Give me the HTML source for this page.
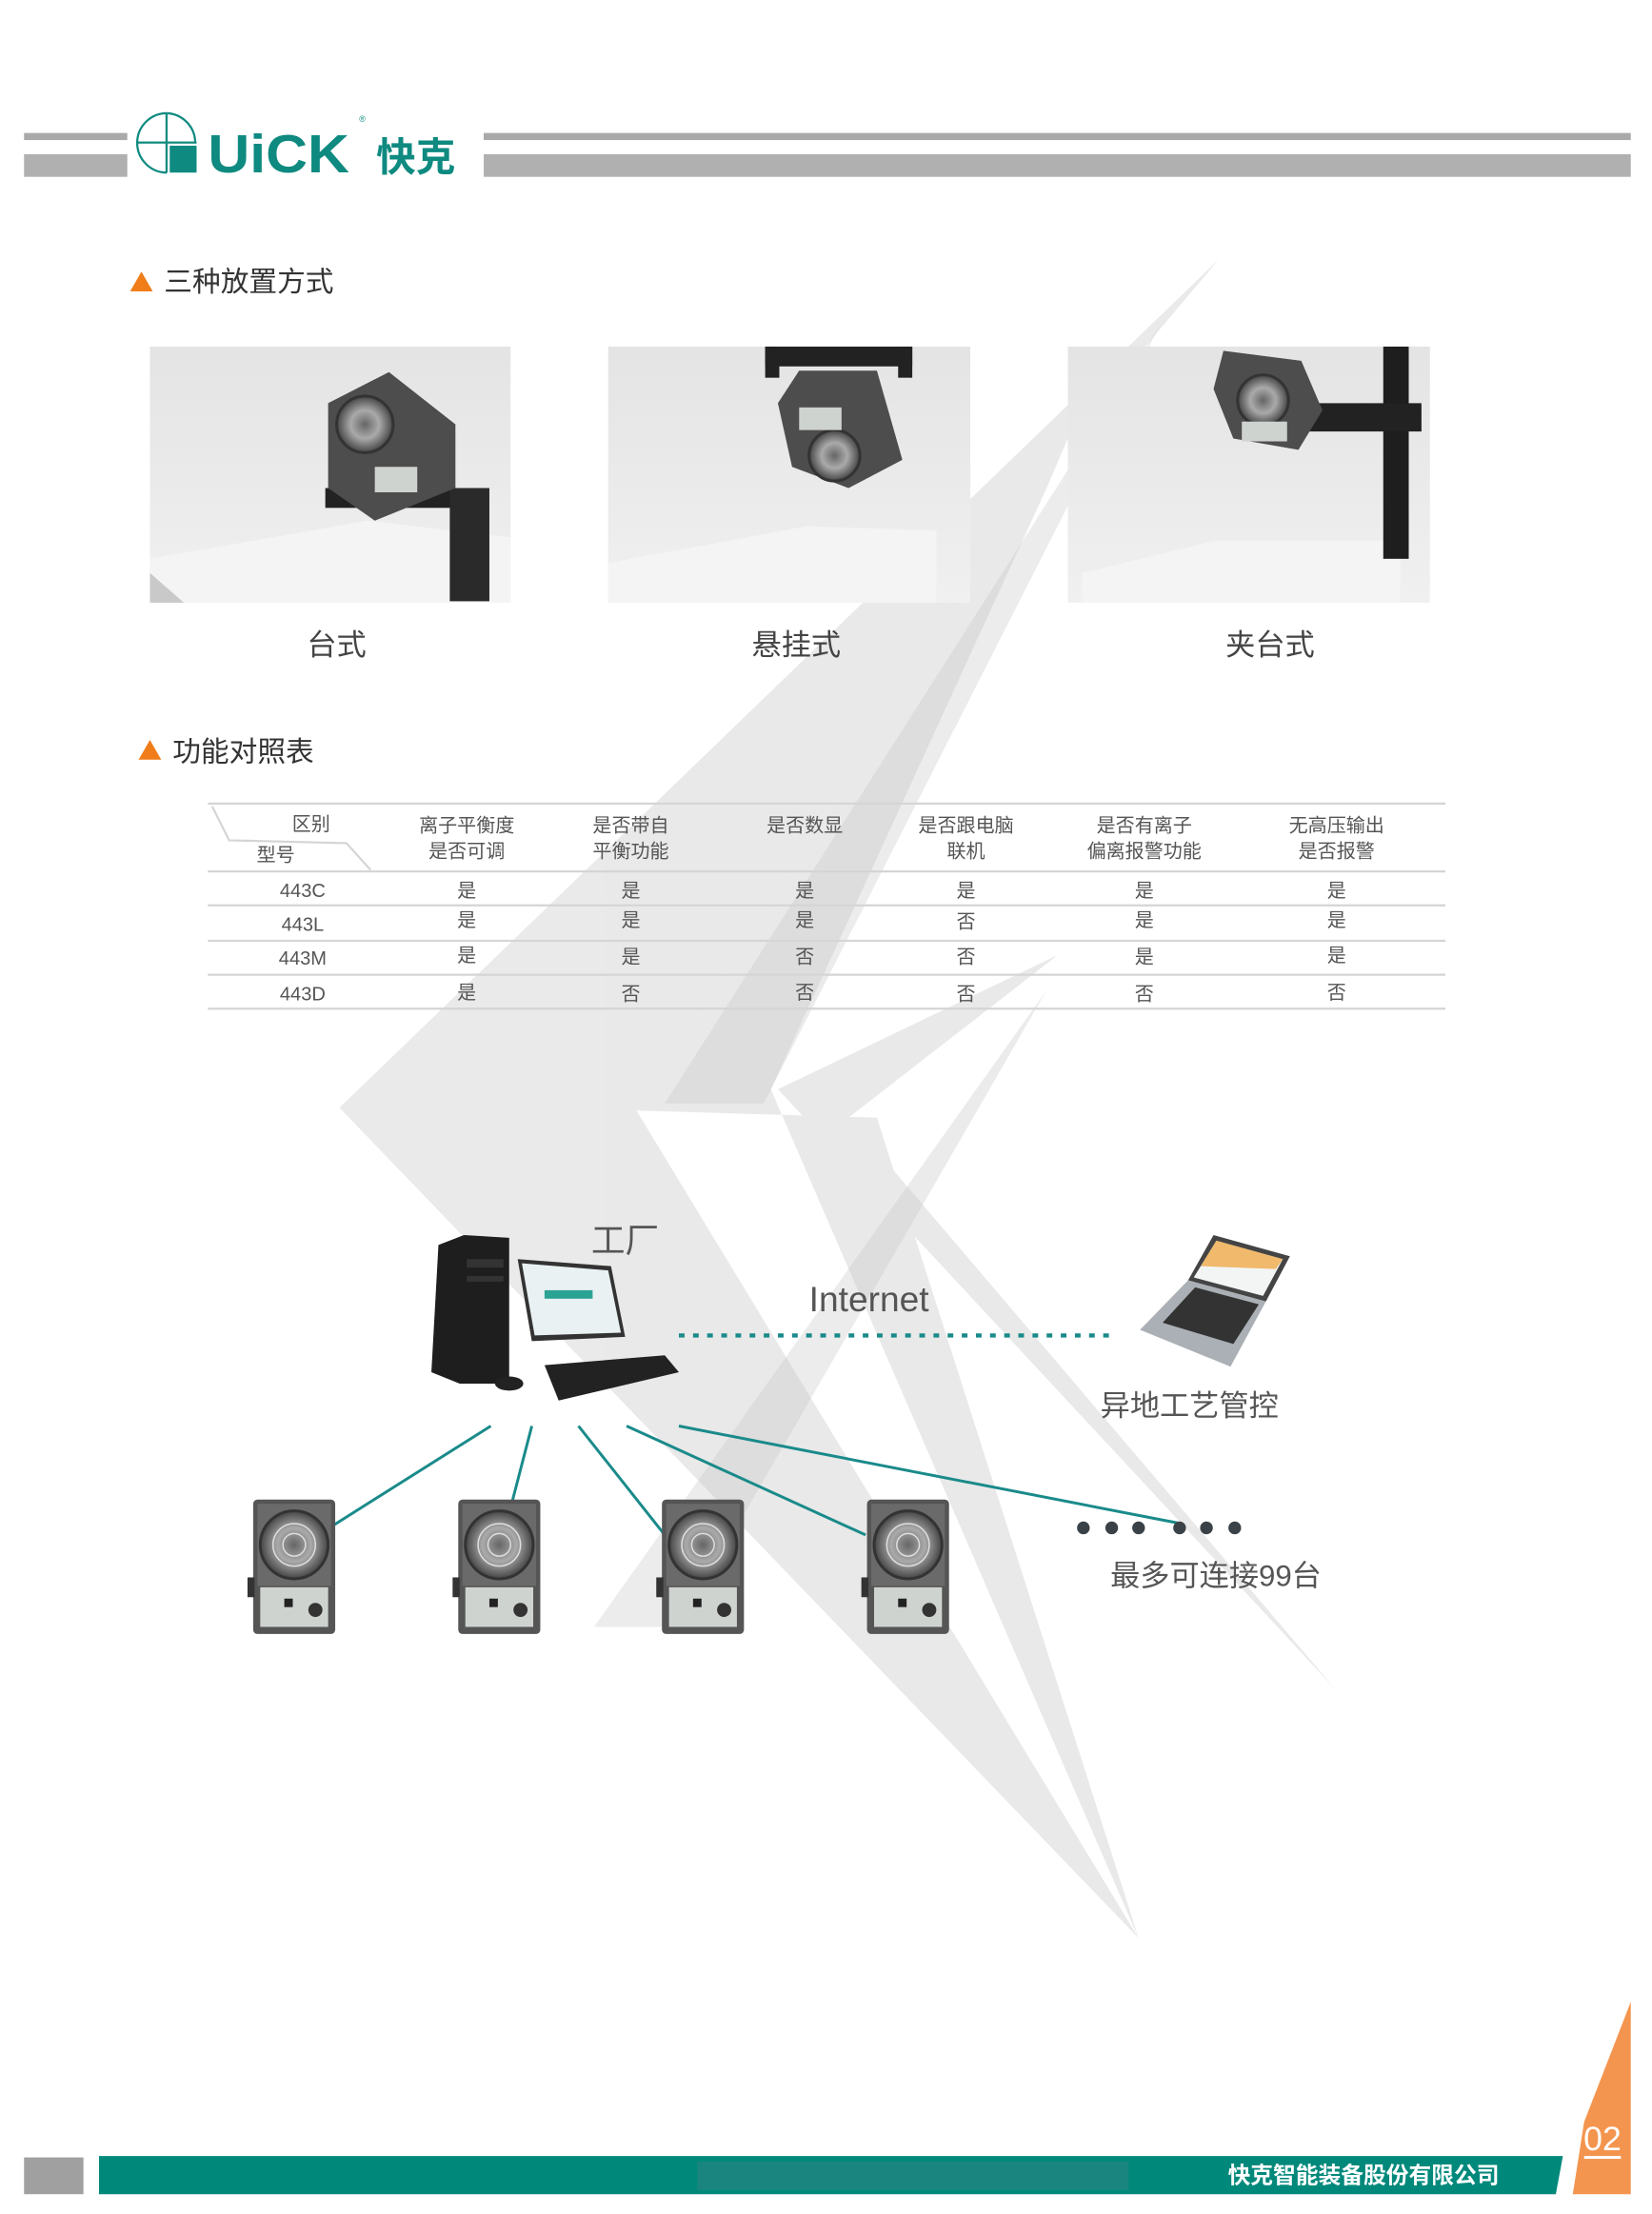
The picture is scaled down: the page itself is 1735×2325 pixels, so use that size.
<!DOCTYPE html>
<html><head><meta charset="utf-8">
<style>
html,body{margin:0;padding:0;background:#fff;}
svg{display:block;}
text{font-family:"Liberation Sans","Noto Sans CJK SC",sans-serif;}
</style></head>
<body>
<svg width="1735" height="2325" viewBox="0 0 1168 1565" preserveAspectRatio="none" xmlns="http://www.w3.org/2000/svg">
<defs>
<linearGradient id="ph" x1="0" y1="0" x2="0" y2="1"><stop offset="0" stop-color="#e4e4e4"/><stop offset="1" stop-color="#f0f0f0"/></linearGradient>
<radialGradient id="fan"><stop offset="0" stop-color="#666"/><stop offset="0.5" stop-color="#aaa"/><stop offset="1" stop-color="#444"/></radialGradient>
<g id="ion">
<rect x="0" y="0" width="58" height="95" rx="3" fill="#555"/>
<rect x="3" y="3" width="52" height="58" fill="#6a6a6a"/>
<circle cx="29" cy="32" r="24" fill="url(#fan)" stroke="#333" stroke-width="2"/>
<circle cx="29" cy="32" r="15" fill="none" stroke="#ddd" stroke-width="1"/>
<circle cx="29" cy="32" r="8" fill="none" stroke="#ddd" stroke-width="1"/>
<rect x="5" y="62" width="48" height="28" fill="#cfd3cf"/>
<rect x="22" y="70" width="6" height="6" fill="#222"/>
<circle cx="44" cy="78" r="5" fill="#333"/>
<rect x="-4" y="55" width="5" height="14" fill="#333"/>
</g>
</defs>

<!-- background lightning shapes -->
<g fill="#d8d8d8" opacity="0.55">
<polygon points="862,183 240,783 805,1370 450,785 755,310"/>
<polygon points="755,310 450,785 620,790 805,1370 545,770 740,345"/>
<polygon points="748,675 550,770 945,1195 600,790"/>
</g>
<g fill="#c8c8c8" opacity="0.35">
<polygon points="820,230 470,780 540,780"/>
<polygon points="740,700 420,1150 480,1150"/>
</g>

<!-- header -->
<rect x="17" y="94" width="73" height="5" fill="#a9a9a9"/>
<rect x="17" y="109" width="73" height="16" fill="#b0b0b0"/>
<rect x="342" y="94" width="811" height="5" fill="#a9a9a9"/>
<rect x="342" y="109" width="811" height="16" fill="#b0b0b0"/>
<g fill="#0e8a80">
<path d="M118,80 A21,21 0 0 0 118,122" fill="none" stroke="#0e8a80" stroke-width="1.5"/>
<path d="M118,80 A21,21 0 0 1 138,100" fill="none" stroke="#0e8a80" stroke-width="1.5"/>
<rect x="97" y="100" width="42" height="1.5"/>
<rect x="117" y="80" width="1.5" height="42"/>
<rect x="120" y="103" width="19" height="19"/>
<text x="147" y="122" font-size="38" font-weight="bold" font-family="Liberation Sans,sans-serif" textLength="100" lengthAdjust="spacingAndGlyphs">UiCK</text>
<text x="266" y="121" font-size="28" font-weight="bold" font-family="Noto Sans CJK SC,sans-serif">快克</text>
</g>
<text x="254" y="86" font-size="6" fill="#0e8a80">®</text>

<!-- section 1 -->
<polygon points="92,206 100,192 108,206" fill="#f07d1a"/>
<text x="116" y="206" font-size="20" fill="#333">三种放置方式</text>

<rect x="106" y="245" width="255" height="181" fill="url(#ph)"/>
<polygon points="106,395 260,368 361,380 361,426 106,426" fill="#f4f4f4"/>
<polygon points="106,405 130,426 106,426" fill="#c9c9c9"/>
<rect x="230" y="345" width="115" height="14" fill="#222"/>
<rect x="318" y="345" width="28" height="80" fill="#2a2a2a"/>
<polygon points="232,285 275,263 322,300 322,345 265,368 232,345" fill="#4d4d4d"/>
<circle cx="258" cy="300" r="20" fill="url(#fan)" stroke="#333" stroke-width="2"/>
<rect x="265" y="330" width="30" height="18" fill="#cfd3cf"/>

<rect x="430" y="245" width="256" height="181" fill="url(#ph)"/>
<polygon points="430,398 570,372 662,375 662,426 430,426" fill="#f4f4f4"/>
<rect x="541" y="245" width="104" height="14" fill="#222"/>
<rect x="541" y="245" width="10" height="22" fill="#222"/>
<rect x="635" y="245" width="10" height="22" fill="#222"/>
<polygon points="565,262 620,262 638,325 600,345 560,330 550,285" fill="#4d4d4d"/>
<circle cx="590" cy="322" r="18" fill="url(#fan)" stroke="#333" stroke-width="2"/>
<rect x="565" y="288" width="30" height="16" fill="#cfd3cf"/>

<rect x="755" y="245" width="256" height="181" fill="url(#ph)"/>
<polygon points="765,405 860,382 990,382 990,426 765,426" fill="#f4f4f4"/>
<rect x="978" y="245" width="18" height="150" fill="#1e1e1e"/>
<rect x="925" y="285" width="80" height="20" fill="#222"/>
<polygon points="865,248 920,255 935,290 918,318 872,310 858,275" fill="#4d4d4d"/>
<circle cx="893" cy="283" r="18" fill="url(#fan)" stroke="#333" stroke-width="2"/>
<rect x="878" y="298" width="32" height="14" fill="#cfd3cf"/>

<g font-size="21" fill="#444" text-anchor="middle">
<text x="238" y="463">台式</text>
<text x="563" y="463">悬挂式</text>
<text x="898" y="463">夹台式</text>
</g>

<!-- section 2 -->
<polygon points="98,537 106,523 114,537 " fill="#f07d1a"/>
<text x="122" y="538" font-size="20" fill="#333">功能对照表</text>

<g stroke="#d5d5d5" stroke-width="1.5">
<line x1="147" y1="568" x2="1022" y2="568"/>
<line x1="147" y1="616" x2="1022" y2="616"/>
<line x1="147" y1="640" x2="1022" y2="640"/>
<line x1="147" y1="665" x2="1022" y2="665"/>
<line x1="147" y1="689" x2="1022" y2="689"/>
<line x1="147" y1="713" x2="1022" y2="713"/>
<polyline points="150,570 162,594 245,596 262,615" fill="none"/>
</g>
<g font-size="13.5" fill="#555" text-anchor="middle">
<text x="220" y="587">区别</text>
<text x="195" y="609">型号</text>
<text x="330" y="588">离子平衡度</text><text x="330" y="606">是否可调</text>
<text x="446" y="588">是否带自</text><text x="446" y="606">平衡功能</text>
<text x="569" y="588">是否数显</text>
<text x="683" y="588">是否跟电脑</text><text x="683" y="606">联机</text>
<text x="809" y="588">是否有离子</text><text x="809" y="606">偏离报警功能</text>
<text x="945" y="588">无高压输出</text><text x="945" y="606">是否报警</text>
</g>
<g font-size="13.5" fill="#555" text-anchor="middle">
<text x="214" y="634" font-family="Liberation Mono,monospace">443C</text>
<text x="330" y="634">是</text><text x="446" y="634">是</text><text x="569" y="634">是</text><text x="683" y="634">是</text><text x="809" y="634">是</text><text x="945" y="634">是</text>
<text x="214" y="658" font-family="Liberation Mono,monospace">443L</text>
<text x="330" y="655">是</text><text x="446" y="655">是</text><text x="569" y="655">是</text><text x="683" y="656">否</text><text x="809" y="655">是</text><text x="945" y="655">是</text>
<text x="214" y="682" font-family="Liberation Mono,monospace">443M</text>
<text x="330" y="680">是</text><text x="446" y="681">是</text><text x="569" y="681">否</text><text x="683" y="681">否</text><text x="809" y="681">是</text><text x="945" y="680">是</text>
<text x="214" y="707" font-family="Liberation Mono,monospace">443D</text>
<text x="330" y="706">是</text><text x="446" y="707">否</text><text x="569" y="706">否</text><text x="683" y="707">否</text><text x="809" y="707">否</text><text x="945" y="706">否</text>
</g>

<!-- network -->
<text x="418" y="885" font-size="24" fill="#555">工厂</text>
<text x="572" y="927" font-size="25" fill="#555">Internet</text>
<line x1="480" y1="944" x2="790" y2="944" stroke="#1a8a8a" stroke-width="3" stroke-dasharray="4,6"/>
<text x="778" y="1001" font-size="21" fill="#555">异地工艺管控</text>

<!-- computer -->
<polygon points="310,880 328,873 360,875 360,978 325,978 305,970" fill="#1e1e1e"/>
<rect x="330" y="890" width="26" height="6" fill="#333"/>
<rect x="330" y="902" width="26" height="4" fill="#333"/>
<polygon points="366,890 432,895 442,945 376,948" fill="#333"/>
<polygon points="369,893 430,898 439,942 378,944" fill="#e9f1f2"/>
<rect x="385" y="912" width="34" height="6" fill="#2aa394"/>
<polygon points="385,965 470,958 480,970 395,990" fill="#222"/>
<ellipse cx="360" cy="978" rx="10" ry="5" fill="#222"/>

<!-- laptop -->
<polygon points="840,905 858,873 912,888 895,920" fill="#444"/>
<polygon points="844,903 860,877 907,890 893,916" fill="#f3f5f5"/>
<polygon points="849,895 860,877 907,890 902,897" fill="#f0a030" opacity="0.7"/>
<polygon points="840,905 895,920 870,966 806,940" fill="#aab0b5"/>
<polygon points="845,910 890,922 872,950 822,935" fill="#333"/>

<!-- connectors -->
<g stroke="#1a8a8a" stroke-width="2" fill="none">
<line x1="347" y1="1008" x2="236" y2="1078"/>
<line x1="376" y1="1008" x2="362" y2="1062"/>
<line x1="409" y1="1008" x2="470" y2="1085"/>
<line x1="443" y1="1008" x2="612" y2="1085"/>
<line x1="480" y1="1008" x2="835" y2="1077"/>
</g>
<g fill="#3a4248">
<circle cx="766" cy="1080" r="4.5"/><circle cx="786" cy="1080" r="4.5"/><circle cx="805" cy="1080" r="4.5"/>
<circle cx="834" cy="1080" r="4.5"/><circle cx="853" cy="1080" r="4.5"/><circle cx="873" cy="1080" r="4.5"/>
</g>
<text x="785" y="1121" font-size="21" fill="#555">最多可连接99台</text>

<use href="#ion" x="179" y="1060"/>
<use href="#ion" x="324" y="1060"/>
<use href="#ion" x="468" y="1060"/>
<use href="#ion" x="613" y="1060"/>

<!-- footer -->
<rect x="17" y="1525" width="42" height="26" fill="#a0a0a0"/>
<polygon points="70,1524 1105,1524 1100,1551 70,1551" fill="#00897b"/>
<rect x="493" y="1528" width="305" height="20" fill="#1a857f"/>
<text x="1060" y="1543" font-size="16" font-weight="bold" fill="#fff" text-anchor="end" font-family="Noto Sans CJK SC,sans-serif">快克智能装备股份有限公司</text>
<polygon points="1153,1415 1153,1551 1112,1551 1120,1500" fill="#f4954f"/>
<text x="1133" y="1520" font-size="24" fill="#fff" text-anchor="middle">02</text>
<rect x="1120" y="1524" width="26" height="2" fill="#fff"/>
</svg>
</body></html>
